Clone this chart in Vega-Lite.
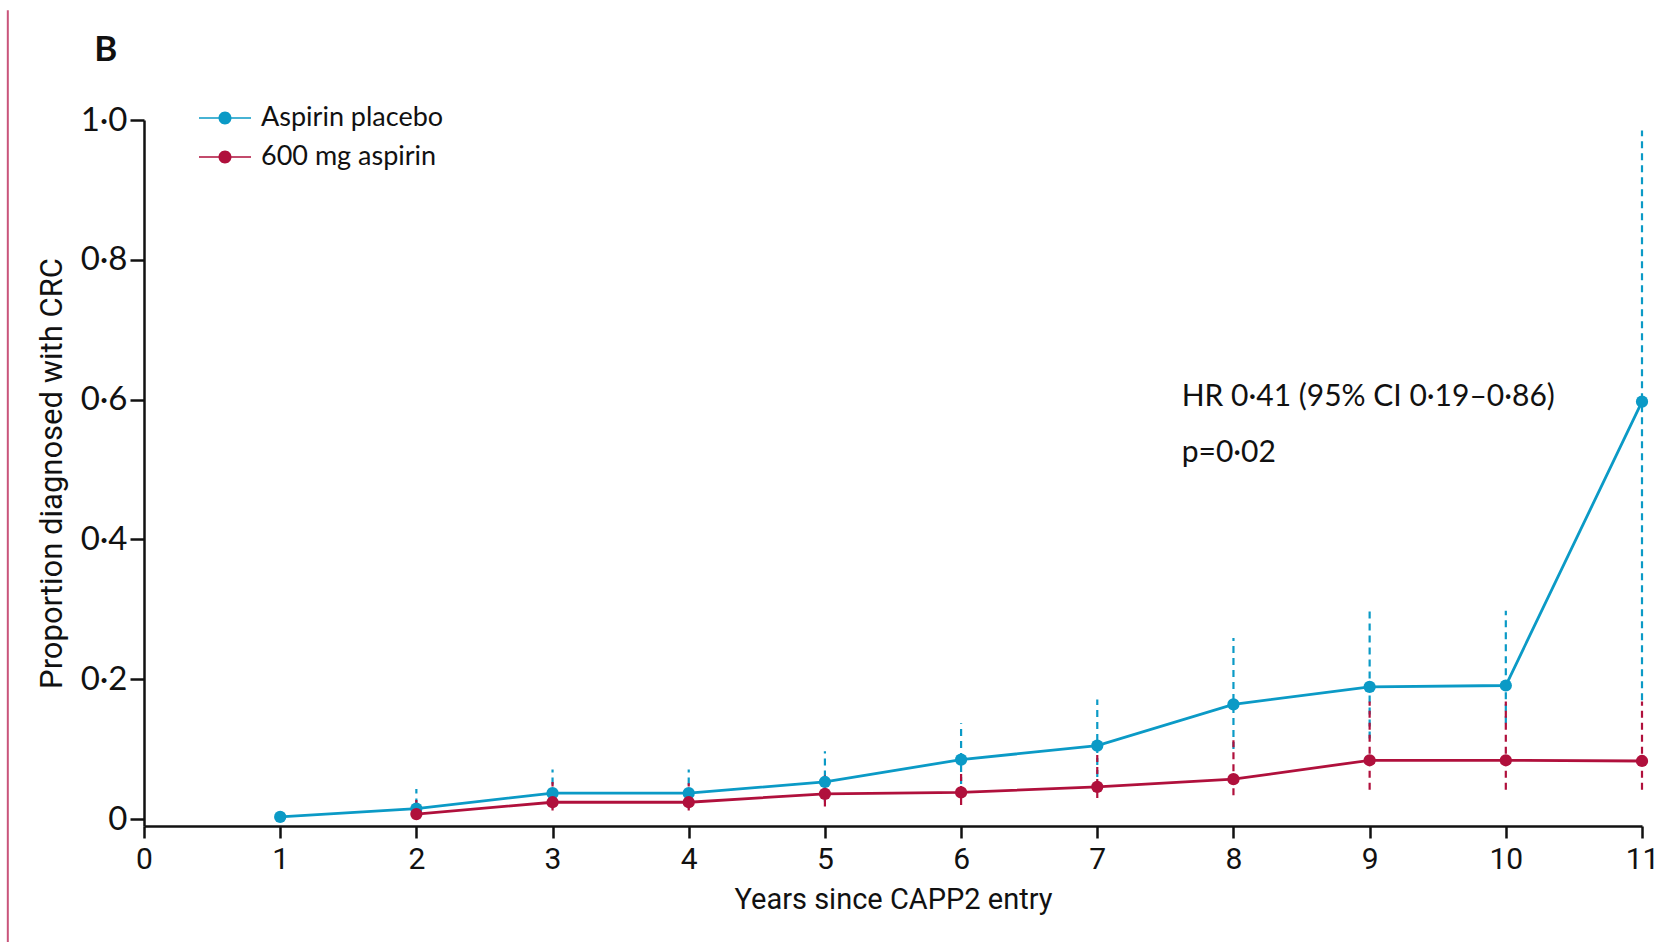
{
  "$schema": "https://vega.github.io/schema/vega-lite/v6.json",
  "width": 1498,
  "height": 706,
  "autosize": {"type": "none"},
  "padding": {"left": 144, "top": 120, "right": 17, "bottom": 122},
  "background": "white",
  "config": {
    "view": {"stroke": null},
    "axis": {"grid": false, "domainColor": "#111111", "domainWidth": 2.5, "tickColor": "#111111", "tickWidth": 2.5, "labelColor": "#111111", "titleColor": "#111111", "titleFontWeight": "normal"}
  },
  "datasets": {
    "rows": [
      {"year": 1, "group": "Aspirin placebo", "p": 0.003, "lo": null, "hi": null},
      {"year": 2, "group": "Aspirin placebo", "p": 0.015, "lo": 0.002, "hi": 0.043},
      {"year": 3, "group": "Aspirin placebo", "p": 0.037, "lo": 0.015, "hi": 0.071},
      {"year": 4, "group": "Aspirin placebo", "p": 0.037, "lo": 0.015, "hi": 0.071},
      {"year": 5, "group": "Aspirin placebo", "p": 0.053, "lo": 0.025, "hi": 0.097},
      {"year": 6, "group": "Aspirin placebo", "p": 0.085, "lo": 0.05, "hi": 0.137},
      {"year": 7, "group": "Aspirin placebo", "p": 0.105, "lo": 0.06, "hi": 0.171},
      {"year": 8, "group": "Aspirin placebo", "p": 0.164, "lo": 0.1, "hi": 0.259},
      {"year": 9, "group": "Aspirin placebo", "p": 0.189, "lo": 0.115, "hi": 0.297},
      {"year": 10, "group": "Aspirin placebo", "p": 0.191, "lo": 0.137, "hi": 0.298},
      {"year": 11, "group": "Aspirin placebo", "p": 0.597, "lo": 0.17, "hi": 0.985},
      {"year": 2, "group": "600 mg aspirin", "p": 0.007, "lo": 0.0, "hi": 0.031},
      {"year": 3, "group": "600 mg aspirin", "p": 0.024, "lo": 0.012, "hi": 0.053},
      {"year": 4, "group": "600 mg aspirin", "p": 0.024, "lo": 0.012, "hi": 0.051},
      {"year": 5, "group": "600 mg aspirin", "p": 0.036, "lo": 0.018, "hi": 0.065},
      {"year": 6, "group": "600 mg aspirin", "p": 0.038, "lo": 0.02, "hi": 0.068},
      {"year": 7, "group": "600 mg aspirin", "p": 0.046, "lo": 0.03, "hi": 0.092},
      {"year": 8, "group": "600 mg aspirin", "p": 0.057, "lo": 0.034, "hi": 0.115},
      {"year": 9, "group": "600 mg aspirin", "p": 0.084, "lo": 0.042, "hi": 0.168},
      {"year": 10, "group": "600 mg aspirin", "p": 0.084, "lo": 0.042, "hi": 0.168},
      {"year": 11, "group": "600 mg aspirin", "p": 0.083, "lo": 0.042, "hi": 0.168}
    ],
    "notes": [
      {"x": 7.62, "y": 0.604, "text": "HR 0·41 (95% CI 0·19–0·86)"},
      {"x": 7.62, "y": 0.524, "text": "p=0·02"}
    ],
    "panel": [
      {"x": -0.28, "y": 1.1, "text": "B"}
    ],
    "border": [
      {"x": -1.0, "y": -0.176, "y2": 1.157}
    ]
  },
  "layer": [
    {
      "data": {"name": "border"},
      "mark": {"type": "rule", "color": "#c9557b", "strokeWidth": 2},
      "encoding": {
        "x": {"field": "x", "type": "quantitative", "scale": {"domain": [0, 11], "nice": false, "zero": false}},
        "y": {"field": "y", "type": "quantitative", "scale": {"domain": [-0.01, 1.0], "nice": false, "zero": false}},
        "y2": {"field": "y2"}
      }
    },
    {
      "data": {"name": "rows"},
      "transform": [{"filter": "datum.lo != null"}],
      "mark": {"type": "rule", "strokeWidth": 2.2, "strokeDash": [7, 5]},
      "encoding": {
        "x": {"field": "year", "type": "quantitative"},
        "y": {"field": "lo", "type": "quantitative"},
        "y2": {"field": "hi"},
        "color": {"field": "group", "type": "nominal", "scale": {"domain": ["Aspirin placebo", "600 mg aspirin"], "range": ["#0b9ac6", "#b0103c"]}}
      }
    },
    {
      "data": {"name": "rows"},
      "mark": {"type": "line", "strokeWidth": 2.8},
      "encoding": {
        "x": {"field": "year", "type": "quantitative"},
        "y": {"field": "p", "type": "quantitative"},
        "color": {"field": "group", "type": "nominal"}
      }
    },
    {
      "data": {"name": "rows"},
      "mark": {"type": "circle", "size": 150, "opacity": 1},
      "encoding": {
        "x": {"field": "year", "type": "quantitative",
          "axis": {"values": [0,1,2,3,4,5,6,7,8,9,10,11], "format": "d", "tickSize": 12, "labelFont": "Roboto", "labelFontSize": 30, "labelPadding": 6, "labelFlush": false, "title": "Years since CAPP2 entry", "titleFont": "Roboto", "titleFontSize": 29, "titlePadding": 11}},
        "y": {"field": "p", "type": "quantitative",
          "axis": {"values": [0, 0.2, 0.4, 0.6, 0.8, 1.0], "tickSize": 14, "labelFont": "Lato", "labelFontSize": 33, "labelPadding": 3, "labelFlush": false, "labelExpr": "datum.value == 0 ? '0' : replace(format(datum.value, '.1f'), '.', '·')", "title": "Proportion diagnosed with CRC", "titleFont": "Roboto", "titleFontSize": 31, "titlePadding": 12}},
        "color": {"field": "group", "type": "nominal",
          "legend": {"orient": "none", "legendX": 55, "legendY": -28, "title": null, "padding": 0,
            "symbolType": "M-1,-0.025L1,-0.025L1,0.025L-1,0.025Z M-0.25,0 A0.25,0.25 0 1,1 0.25,0 A0.25,0.25 0 1,1 -0.25,0Z",
            "symbolSize": 2704, "symbolStrokeWidth": 0, "symbolOpacity": 1,
            "labelFont": "Lato", "labelFontSize": 27, "labelColor": "#111111", "labelOffset": 10, "labelLimit": 500, "rowPadding": -6,
            "encode": {"symbols": {"update": {"fill": {"scale": "color", "field": "value"}, "strokeWidth": {"value": 0}}}}}}
      }
    },
    {
      "data": {"name": "notes"},
      "mark": {"type": "text", "align": "left", "baseline": "middle", "font": "Lato", "fontSize": 30, "color": "#111111"},
      "encoding": {
        "x": {"field": "x", "type": "quantitative"},
        "y": {"field": "y", "type": "quantitative"},
        "text": {"field": "text"}
      }
    },
    {
      "data": {"name": "panel"},
      "mark": {"type": "text", "align": "center", "baseline": "middle", "font": "Lato", "fontSize": 35, "fontWeight": "bold", "color": "#111111"},
      "encoding": {
        "x": {"field": "x", "type": "quantitative"},
        "y": {"field": "y", "type": "quantitative"},
        "text": {"field": "text"}
      }
    }
  ]
}
